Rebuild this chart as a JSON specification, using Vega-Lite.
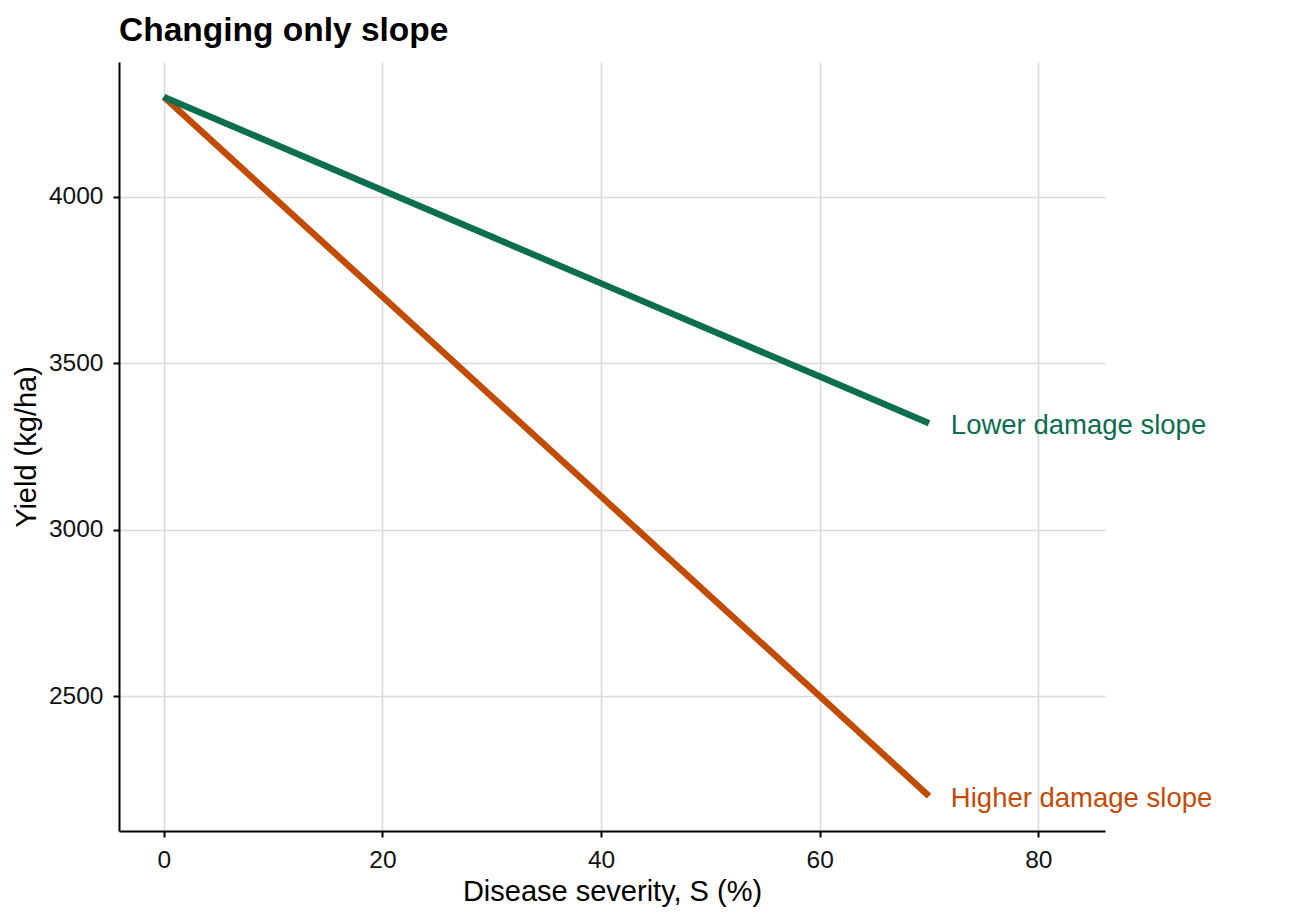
{
  "$schema": "https://vega.github.io/schema/vega-lite/v6.json",
  "width": 986,
  "height": 769,
  "autosize": {"type": "none"},
  "padding": {"left": 119, "top": 62, "right": 200, "bottom": 90},
  "background": "white",
  "title": {
    "text": "Changing only slope",
    "anchor": "start",
    "frame": "group",
    "font": "Liberation Sans",
    "fontSize": 33.5,
    "fontWeight": "bold",
    "color": "black",
    "baseline": "alphabetic",
    "offset": -12
  },
  "config": {
    "view": {"stroke": null},
    "axis": {
      "domainColor": "black",
      "domainWidth": 2,
      "tickColor": "black",
      "tickWidth": 2,
      "tickSize": 6,
      "gridColor": "#D9D9D9",
      "gridWidth": 1.6,
      "labelFont": "Liberation Sans",
      "labelFontSize": 24.5,
      "labelColor": "#111111",
      "titleFont": "Liberation Sans",
      "titleFontSize": 29,
      "titleFontWeight": "normal",
      "titleColor": "black",
      "labelFlush": false,
      "labelOverlap": false
    }
  },
  "datasets": {
    "lines": [
      {"series": "Lower damage slope", "severity": 0, "yield": 4300},
      {"series": "Lower damage slope", "severity": 10, "yield": 4160},
      {"series": "Lower damage slope", "severity": 20, "yield": 4020},
      {"series": "Lower damage slope", "severity": 30, "yield": 3880},
      {"series": "Lower damage slope", "severity": 40, "yield": 3740},
      {"series": "Lower damage slope", "severity": 50, "yield": 3600},
      {"series": "Lower damage slope", "severity": 60, "yield": 3460},
      {"series": "Lower damage slope", "severity": 70, "yield": 3320},
      {"series": "Higher damage slope", "severity": 0, "yield": 4300},
      {"series": "Higher damage slope", "severity": 10, "yield": 4000},
      {"series": "Higher damage slope", "severity": 20, "yield": 3700},
      {"series": "Higher damage slope", "severity": 30, "yield": 3400},
      {"series": "Higher damage slope", "severity": 40, "yield": 3100},
      {"series": "Higher damage slope", "severity": 50, "yield": 2800},
      {"series": "Higher damage slope", "severity": 60, "yield": 2500},
      {"series": "Higher damage slope", "severity": 70, "yield": 2200}
    ],
    "labels": [
      {"series": "Lower damage slope", "severity": 72, "yield": 3320},
      {"series": "Higher damage slope", "severity": 72, "yield": 2200}
    ]
  },
  "encoding": {
    "x": {
      "field": "severity",
      "type": "quantitative",
      "scale": {"domain": [-4.1, 86.1], "nice": false, "zero": false},
      "axis": {
        "title": "Disease severity, S (%)",
        "values": [0, 20, 40, 60, 80],
        "format": "d",
        "labelPadding": 11,
        "titleY": 69,
        "titleBaseline": "alphabetic"
      }
    },
    "y": {
      "field": "yield",
      "type": "quantitative",
      "scale": {"domain": [2095, 4405], "nice": false, "zero": false},
      "axis": {
        "title": "Yield (kg/ha)",
        "values": [2500, 3000, 3500, 4000],
        "format": "d",
        "labelPadding": 10,
        "titleX": -84,
        "titleBaseline": "alphabetic"
      }
    },
    "color": {
      "field": "series",
      "type": "nominal",
      "scale": {
        "domain": ["Higher damage slope", "Lower damage slope"],
        "range": ["#C24B05", "#0B6E4F"]
      },
      "legend": null
    }
  },
  "layer": [
    {
      "data": {"name": "lines"},
      "transform": [{"filter": "datum.series === 'Higher damage slope'"}],
      "mark": {"type": "line", "strokeWidth": 6.5, "strokeCap": "butt"}
    },
    {
      "data": {"name": "lines"},
      "transform": [{"filter": "datum.series === 'Lower damage slope'"}],
      "mark": {"type": "line", "strokeWidth": 6.5, "strokeCap": "butt"}
    },
    {
      "data": {"name": "labels"},
      "mark": {
        "type": "text",
        "align": "left",
        "baseline": "middle",
        "dy": 3,
        "font": "Liberation Sans",
        "fontSize": 27.5
      },
      "encoding": {
        "text": {"field": "series", "type": "nominal"}
      }
    }
  ]
}
